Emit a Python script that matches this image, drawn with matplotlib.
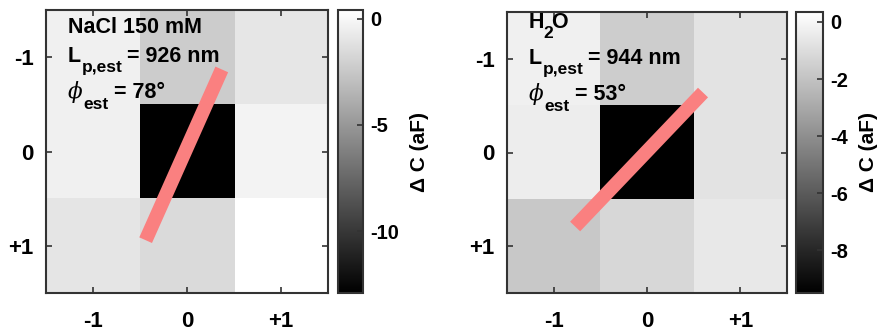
import numpy as np
import matplotlib
matplotlib.use("Agg")
import matplotlib.pyplot as plt

plt.rcParams['font.family'] = ['Liberation Sans', 'DejaVu Sans']
plt.rcParams['font.weight'] = 'bold'
plt.rcParams['axes.unicode_minus'] = False

# capacitance change maps (aF), rows top->bottom = -1, 0, +1
nacl = [[-0.38, -2.3, -0.9],
        [-0.38, -12.9, -0.23],
        [-1.0, -1.53, 0.4]]
water = [[-0.23, -1.6, -0.7],
         [-0.38, -9.5, -0.7],
         [-1.8, -1.2, -0.54]]

pos = [-1, 0, 1]
ticklabels = ['-1', '0', '+1']

# estimated orientation lines (x0, x1), (y0, y1)
nacl_line = ([-0.44, 0.37], [0.94, -0.87])
water_line = ([-0.77, 0.60], [0.79, -0.64])

nacl_txt = ['NaCl 150 mM', '926 nm', '78°']
water_txt = ['H', '944 nm', '53°']

nacl_clim = (-12.9, 0.4)
water_clim = (-9.5, 0.35)
cb_ticks = [[0, -5, -10], [0, -2, -4, -6, -8]]

W, H = 888, 335
fig = plt.figure(figsize=(W / 100, H / 100), dpi=100)

def box(x0, y0, x1, y1):
    return [x0 / W, 1 - y1 / H, (x1 - x0) / W, (y1 - y0) / H]

edge = '#333333'
big = 15.5
small = 12.5

def put(ax, s, x, y, dx, dy, size, weight='bold', **kw):
    # dx, dy in pixels from anchor (axes fraction), dy positive = down
    ax.annotate(s, xy=(x, y), xycoords='axes fraction', xytext=(dx, -dy),
                textcoords='offset pixels', fontsize=size, fontweight=weight,
                va='baseline', ha='left', **kw)

panels = [
    (nacl, nacl_line, nacl_txt, nacl_clim, cb_ticks[0],
     box(46, 10, 328, 293), box(338, 10, 363, 293)),
    (water, water_line, water_txt, water_clim, cb_ticks[1],
     box(507, 12, 787, 293), box(796, 12, 823, 293)),
]

for i, (data, line, txt, clim, cbt, axpos, cbpos) in enumerate(panels):
    ax = fig.add_axes(axpos)
    cax = fig.add_axes(cbpos)
    arr = np.array(data)
    im = ax.imshow(arr, cmap='gray', extent=[-1.5, 1.5, 1.5, -1.5],
                   vmin=clim[0], vmax=clim[1], interpolation='nearest', aspect='auto')
    ax.plot(line[0], line[1], color='#fa8080', lw=10, solid_capstyle='butt')
    ax.set_xlim(-1.5, 1.5)
    ax.set_ylim(1.5, -1.5)
    ax.set_xticks(pos)
    ax.set_xticklabels(ticklabels)
    ax.set_yticks(pos)
    ax.set_yticklabels(ticklabels)
    ax.tick_params(direction='in', top=True, right=True, length=4, width=1.2,
                   color=edge, labelsize=16, pad=9)
    ax.tick_params(axis='x', pad=13)
    for s in ax.spines.values():
        s.set_color(edge)
        s.set_linewidth(1.5)

    # annotation block, anchor at the top-left of the text
    hgt = axpos[3] * H
    x0 = 22 / (axpos[2] * W)
    if i == 0:
        put(ax, txt[0], x0, 1 - 23 / hgt, 0, 0, big)
    else:
        put(ax, txt[0], x0, 1 - 16 / hgt, 0, 0, big)
        put(ax, '2', x0, 1 - 16 / hgt, 14, 10, small)
        put(ax, 'O', x0, 1 - 16 / hgt, 22, 0, big)
    yl = 1 - 52 / hgt
    put(ax, 'L', x0, yl, 0, 0, big)
    put(ax, 'p,est', x0, yl, 14, 10, small)
    put(ax, '= ' + txt[1], x0, yl, 59, 0, big)
    yp = 1 - 88 / hgt
    put(ax, 'ϕ', x0, yp, 0, 0, big, weight='normal', family=['DejaVu Serif'], style='italic')
    put(ax, 'est', x0, yp, 15, 11, small)
    put(ax, '= ' + txt[2], x0, yp, 46, 0, big)

    cb = fig.colorbar(im, cax=cax)
    cb.set_ticks(cbt)
    cb.ax.tick_params(direction='in', length=4, width=1.2, labelsize=14.5, color=edge, pad=5)
    cb.outline.set_edgecolor(edge)
    cb.outline.set_linewidth(1.5)
    cb.set_label('Δ C (aF)', fontsize=15, fontweight='bold', labelpad=8)

fig.savefig('out.png', dpi=100)
